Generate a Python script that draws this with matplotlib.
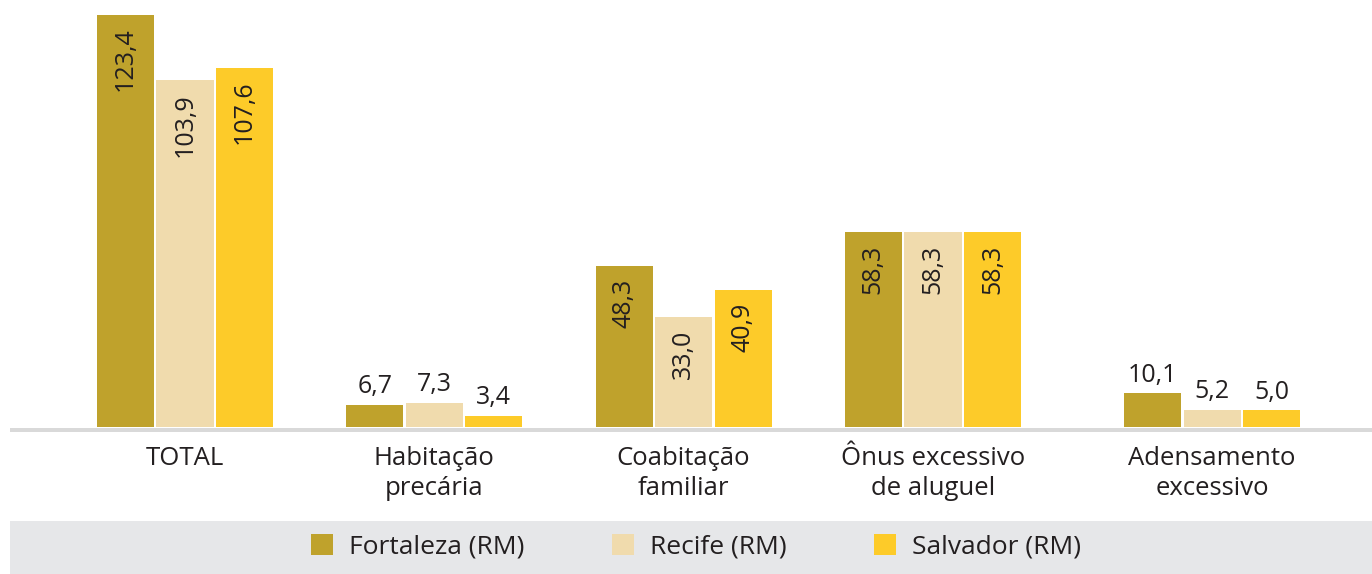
import numpy as np
import matplotlib.pyplot as plt
from matplotlib.patches import Rectangle, Patch

plt.rcParams['font.family'] = ['Open Sans', 'DejaVu Sans']

categories = ['TOTAL', 'Habitação\nprecária', 'Coabitação\nfamiliar',
              'Ônus excessivo\nde aluguel', 'Adensamento\nexcessivo']
series = ['Fortaleza (RM)', 'Recife (RM)', 'Salvador (RM)']
fortaleza = [123.4, 6.7, 48.3, 58.3, 10.1]
recife = [103.9, 7.3, 33.0, 58.3, 5.2]
salvador = [107.6, 3.4, 40.9, 58.3, 5.0]

colors = ['#bfa22c', '#f0dbad', '#fdcb29']
txt = '#231f20'

W, H = 1372, 574
fig = plt.figure(figsize=(W / 100, H / 100), dpi=100)

# grey legend band at the bottom
fig.patches.append(Rectangle((10 / W, 0), 1, 53 / H, transform=fig.transFigure,
                             facecolor='#e6e7e9', edgecolor='none', zorder=0))

# axes: x from px 10 to 1372, y from px 432 (bottom) to 0
ax = fig.add_axes([10 / W, (H - 432) / H, 1 - 10 / W, 432 / H])
pxu = 3.339
ax.set_ylim(-5 / pxu, 432 / pxu - 5 / pxu)
xpos = np.array([0, 1, 2, 3, 4.12])
ax.set_xlim(-0.702, 4.761)

width = 0.229
step = 0.239
data = [fortaleza, recife, salvador]
for i, (vals, col) in enumerate(zip(data, colors)):
    xs = xpos + (i - 1) * step
    ax.bar(xs, vals, width, color=col, zorder=2)
    for x, v in zip(xs, vals):
        lab = ('%.1f' % v).replace('.', ',')
        if v > 20:
            ax.text(x, v - 3.8, lab, rotation=90, ha='center', va='top',
                    fontsize=18, color=txt, zorder=3)
        else:
            ax.text(x, v + 1.6, lab, ha='center', va='bottom',
                    fontsize=18, color=txt, zorder=3)

ax.axhline(-2.5 / pxu, color='#d9d9d9', lw=3.6, zorder=1)

ax.set_xticks(xpos)
ax.set_xticklabels(categories, fontsize=18.5, color=txt, linespacing=1.25)
ax.tick_params(axis='x', length=0, pad=10)
ax.set_yticks([])
for s in ax.spines.values():
    s.set_visible(False)

handles = [Patch(facecolor=c, edgecolor='none') for c in colors]
fig.legend(handles, series, loc='center', bbox_to_anchor=(696 / W, 27 / H),
           ncol=3, frameon=False, fontsize=19, handlelength=0.85, handleheight=0.85,
           handletextpad=0.6, columnspacing=3.3, labelcolor=txt)

fig.savefig('out.png', dpi=100)
